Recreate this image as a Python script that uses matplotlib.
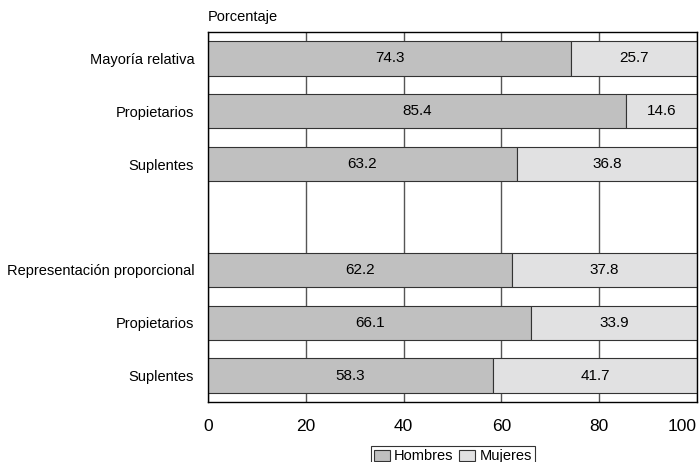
import matplotlib
matplotlib.use("Agg")
import matplotlib.pyplot as plt
import numpy as np

plt.rcParams['font.family'] = ['Liberation Sans', 'DejaVu Sans']

categories = ["Mayoría relativa", "Propietarios", "Suplentes",
              "Representación proporcional", "Propietarios", "Suplentes"]
hombres = [74.3, 85.4, 63.2, 62.2, 66.1, 58.3]
mujeres = [25.7, 14.6, 36.8, 37.8, 33.9, 41.7]
positions = [0, 1, 2, 4, 5, 6]
xticks = [0, 20, 40, 60, 80, 100]

fig = plt.figure(figsize=(6.99, 4.62), dpi=100)
ax = fig.add_axes([0.2976, 0.1299, 0.6994, 0.8008])

ax.xaxis.grid(True, color='#555555', linewidth=1.0)
ax.set_axisbelow(True)

h = np.array(hombres)
m = np.array(mujeres)
bars_h = ax.barh(positions, h, height=0.65, color='#c0c0c0', edgecolor='#333333',
                 linewidth=0.8, label='Hombres')
bars_m = ax.barh(positions, m, left=h, height=0.65, color='#e1e1e2', edgecolor='#333333',
                 linewidth=0.8, label='Mujeres')
ax.bar_label(bars_h, labels=[f"{v:.1f}" for v in h], label_type='center', fontsize=11)
ax.bar_label(bars_m, labels=[f"{v:.1f}" for v in m], label_type='center', fontsize=11)

ax.set_xlim(0, 100)
ax.set_ylim(6.5, -0.5)
ax.set_xticks(xticks)
ax.set_xticklabels([str(t) for t in xticks], fontsize=12.5)
# last label sits inside the figure edge
ax.get_xticklabels()[-1].set_horizontalalignment('right')
ax.set_yticks(positions)
ax.set_yticklabels(categories, fontsize=10.5)
ax.tick_params(axis='both', length=0)
ax.tick_params(axis='y', pad=10)
ax.tick_params(axis='x', pad=12)
for s in ax.spines.values():
    s.set_color('black')
    s.set_linewidth(1.0)

fig.text(0.2976, 0.963, "Porcentaje", fontsize=10.5, ha='left', va='center')

leg = fig.legend(handles=[bars_h, bars_m], loc='lower center', bbox_to_anchor=(0.648, -0.012),
                 ncol=2, frameon=True, fancybox=False, edgecolor='black', fontsize=10.5,
                 handlelength=1.1, handleheight=0.8, handletextpad=0.3, columnspacing=0.4,
                 borderpad=0.2, borderaxespad=0.1)
leg.get_frame().set_linewidth(0.8)

fig.savefig("out.png", dpi=100)
